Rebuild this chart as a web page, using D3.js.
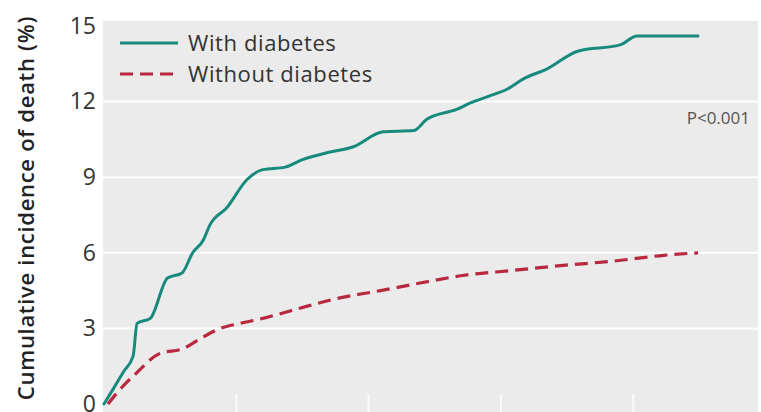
<!DOCTYPE html>
<html>
<head>
<meta charset="utf-8">
<script src="https://cdn.jsdelivr.net/npm/d3@7"></script>
<style>
  html, body { margin: 0; padding: 0; background: #fff; }
  svg { display: block; }
</style>
</head>
<body>
<svg id="chart" width="761" height="412"></svg>
<script>
// ---- data (years, cumulative incidence %) ----
const seriesNames = ["With diabetes", "Without diabetes"];
const withDiabetes = [
  [0, 0], [0.07, 0.6], [0.15, 1.3], [0.22, 1.9], [0.25, 3.2], [0.35, 3.4], [0.48, 5.0], [0.59, 5.2],
  [0.67, 6.0], [0.75, 6.5], [0.80, 7.1], [0.93, 7.8], [1.08, 8.9], [1.20, 9.3],
  [1.37, 9.4], [1.50, 9.7], [1.71, 10.0], [1.88, 10.2], [2.11, 10.8], [2.34, 10.85],
  [2.44, 11.3], [2.67, 11.7], [2.77, 11.95], [2.90, 12.2], [3.05, 12.5], [3.17, 12.9],
  [3.35, 13.3], [3.58, 14.0], [3.90, 14.25], [4.03, 14.6], [4.49, 14.6]
];
const withoutDiabetes = [
  [0.03, 0], [0.10, 0.45], [0.16, 0.8], [0.22, 1.1], [0.42, 2.0], [0.60, 2.2], [0.73, 2.6], [0.88, 3.0],
  [1.03, 3.2], [1.20, 3.4], [1.31, 3.55], [1.48, 3.8], [1.73, 4.15], [2.09, 4.5],
  [2.39, 4.8], [2.71, 5.1], [3.09, 5.3], [3.47, 5.5], [3.85, 5.67], [4.23, 5.9],
  [4.49, 6.0]
];
const yTicks = [0, 3, 6, 9, 12, 15];
const xTicks = [1, 2, 3, 4];
const yLabel = "Cumulative incidence of death (%)";
const pText = "P<0.001";

// ---- layout ----
const svg = d3.select("#chart");
const x = d3.scaleLinear().domain([0, 5]).range([104, 765.5]);
const y = d3.scaleLinear().domain([0, 15]).range([404, 26]);
const plotLeft = 103, plotRight = 758, plotTop = 21, plotBottom = 412;
const teal = "#178a7c", red = "#b8283f";

svg.append("rect")
  .attr("x", plotLeft).attr("y", plotTop)
  .attr("width", plotRight - plotLeft).attr("height", plotBottom - plotTop)
  .attr("fill", "#ebebeb");

// horizontal gridlines
svg.append("g").selectAll("line").data(yTicks.filter(d => d > 0 && d < 15)).join("line")
  .attr("x1", plotLeft).attr("x2", plotRight)
  .attr("y1", d => y(d)).attr("y2", d => y(d))
  .attr("stroke", "#fff").attr("stroke-width", 2);

// x tick marks (white, at bottom)
svg.append("g").selectAll("line").data(xTicks).join("line")
  .attr("x1", d => x(d)).attr("x2", d => x(d))
  .attr("y1", 394).attr("y2", plotBottom)
  .attr("stroke", "#fafafa").attr("stroke-width", 2);

// y axis tick labels
const yAxis = d3.axisLeft(y).tickValues(yTicks).tickSize(0).tickPadding(0);
const gy = svg.append("g").attr("transform", "translate(96,0)").call(yAxis);
gy.select(".domain").remove();
gy.selectAll("text")
  .attr("font-family", "Open Sans, sans-serif")
  .attr("font-size", 23)
  .attr("fill", "#333");

// y axis title
svg.append("text")
  .attr("transform", `translate(34, ${208}) rotate(-90)`)
  .attr("text-anchor", "middle")
  .attr("font-family", "Open Sans, sans-serif")
  .attr("font-weight", 600)
  .attr("font-size", 22)
  .attr("letter-spacing", 0.7)
  .attr("fill", "#222")
  .text(yLabel);

// lines
const line = d3.line().x(d => x(d[0])).y(d => y(d[1])).curve(d3.curveMonotoneX);
svg.append("path").datum(withoutDiabetes)
  .attr("d", line).attr("fill", "none")
  .attr("stroke", red).attr("stroke-width", 3.2)
  .attr("stroke-dasharray", "13,7");
svg.append("path").datum(withDiabetes)
  .attr("d", line).attr("fill", "none")
  .attr("stroke", teal).attr("stroke-width", 3)
  .attr("stroke-linejoin", "round").attr("stroke-linecap", "round");

// legend
const legend = svg.append("g");
const legendItems = [
  { name: seriesNames[0], color: teal, dash: null, yy: 43 },
  { name: seriesNames[1], color: red, dash: "13,7", yy: 74 }
];
legendItems.forEach(it => {
  legend.append("line")
    .attr("x1", 120).attr("x2", 178).attr("y1", it.yy).attr("y2", it.yy)
    .attr("stroke", it.color).attr("stroke-width", 3.2)
    .attr("stroke-dasharray", it.dash);
  legend.append("text")
    .attr("x", 188).attr("y", it.yy + 8)
    .attr("font-family", "Open Sans, sans-serif")
    .attr("font-size", 22)
    .attr("letter-spacing", 0.6)
    .attr("fill", "#333")
    .text(it.name);
});

// p-value
svg.append("text")
  .attr("x", 750).attr("y", 124)
  .attr("text-anchor", "end")
  .attr("font-family", "Open Sans, sans-serif")
  .attr("font-size", 17)
  .attr("fill", "#555")
  .text(pText);
</script>
</body>
</html>
